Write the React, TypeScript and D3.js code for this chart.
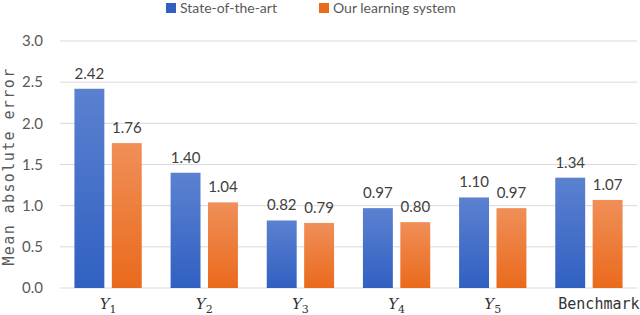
import { useEffect, useRef } from 'react';
import * as d3 from 'd3';

const categories = ['Y1', 'Y2', 'Y3', 'Y4', 'Y5', 'Benchmark'];
const stateOfArt = [2.42, 1.40, 0.82, 0.97, 1.10, 1.34];
const ourSystem = [1.76, 1.04, 0.79, 0.80, 0.97, 1.07];
const seriesNames = ['State-of-the-art', 'Our learning system'];
const yTicks = [0, 0.5, 1.0, 1.5, 2.0, 2.5, 3.0];

const COLORS = {
    grid: '#d9d9d9',
    text: '#595959',
    blueTop: '#5b81d0',
    blueBottom: '#3160c2',
    orangeTop: '#f08f58',
    orangeBottom: '#ea6a1c',
};

const W = 640;
const H = 315;

export default function App() {
    const svgRef = useRef<SVGSVGElement | null>(null);

    useEffect(() => {
        if (!svgRef.current) return;
        const svg = d3.select(svgRef.current);
        svg.selectAll('*').remove();

        const margin = { top: 41, right: 3, bottom: 27, left: 60 };
        const w = W - margin.left - margin.right;
        const h = H - margin.top - margin.bottom;

        const defs = svg.append('defs');
        const grad = (id: string, top: string, bottom: string) => {
            const lg = defs.append('linearGradient').attr('id', id)
                .attr('x1', 0).attr('y1', 0).attr('x2', 0).attr('y2', 1);
            lg.append('stop').attr('offset', '0%').attr('stop-color', top);
            lg.append('stop').attr('offset', '100%').attr('stop-color', bottom);
        };
        grad('gBlue', COLORS.blueTop, COLORS.blueBottom);
        grad('gOrange', COLORS.orangeTop, COLORS.orangeBottom);
        const fills = ['url(#gBlue)', 'url(#gOrange)'];
        const legendFills = [COLORS.blueBottom, COLORS.orangeBottom];

        const g = svg.append('g').attr('transform', `translate(${margin.left},${margin.top})`);

        const x0 = d3.scaleBand().domain(categories).range([0, w]).paddingInner(0.3).paddingOuter(0.15);
        const x1 = d3.scaleBand().domain(['0', '1']).range([0, x0.bandwidth()]).paddingInner(0.2);
        const y = d3.scaleLinear().domain([0, 3]).range([h, 0]);

        // gridlines
        g.selectAll('line.grid').data(yTicks).enter().append('line')
            .attr('x1', 0).attr('x2', w)
            .attr('y1', d => y(d)).attr('y2', d => y(d))
            .attr('stroke', COLORS.grid).attr('stroke-width', 1);

        // y tick labels
        g.selectAll('text.ytick').data(yTicks).enter().append('text')
            .attr('x', -17).attr('y', d => y(d)).attr('dy', '0.35em')
            .attr('text-anchor', 'end')
            .style('fill', COLORS.text).style('font-family', 'Lato, "Open Sans", sans-serif').style('font-size', '15px')
            .text(d => d.toFixed(1));

        // y axis title
        svg.append('text')
            .attr('transform', `translate(14,${margin.top + h / 2 + 2}) rotate(-90)`)
            .attr('text-anchor', 'middle')
            .style('fill', COLORS.text).style('font-family', '"DejaVu Sans Mono", monospace')
            .style('font-size', '15px').style('letter-spacing', '1.4px')
            .text('Mean absolute error');

        const series = [stateOfArt, ourSystem];
        series.forEach((vals, si) => {
            const grp = g.append('g');
            grp.selectAll('rect').data(vals).enter().append('rect')
                .attr('x', (_, i) => (x0(categories[i]) || 0) + (x1(String(si)) || 0))
                .attr('y', d => y(d))
                .attr('width', x1.bandwidth())
                .attr('height', d => h - y(d))
                .attr('fill', fills[si]);
            grp.selectAll('text').data(vals).enter().append('text')
                .attr('x', (_, i) => (x0(categories[i]) || 0) + (x1(String(si)) || 0) + x1.bandwidth() / 2)
                .attr('y', d => y(d) - 10)
                .attr('text-anchor', 'middle')
                .style('fill', '#404040').style('font-family', 'Lato, "Open Sans", sans-serif').style('font-size', '15px')
                .text(d => d.toFixed(2));
        });

        // category labels
        categories.forEach(c => {
            const cx = (x0(c) || 0) + x0.bandwidth() / 2;
            if (c.startsWith('Y')) {
                const t = g.append('text')
                    .attr('x', cx).attr('y', h + 21)
                    .attr('text-anchor', 'middle')
                    .style('fill', '#333').style('font-family', '"DejaVu Serif", serif').style('font-size', '15px');
                t.append('tspan').style('font-style', 'italic').text('Y');
                t.append('tspan').attr('dy', 4).style('font-size', '11px').text(c.slice(1));
            } else {
                g.append('text')
                    .attr('x', cx + 10).attr('y', h + 21)
                    .attr('text-anchor', 'middle')
                    .style('fill', '#333').style('font-family', '"DejaVu Sans Mono", monospace').style('font-size', '15px')
                    .text(c);
            }
        });

        // legend
        const legendX = [166, 319];
        seriesNames.forEach((name, i) => {
            svg.append('rect').attr('x', legendX[i]).attr('y', 3).attr('width', 10).attr('height', 10)
                .attr('fill', legendFills[i]);
            svg.append('text').attr('x', legendX[i] + 14).attr('y', 8).attr('dy', '0.35em')
                .style('fill', COLORS.text).style('font-family', 'Lato, "Open Sans", sans-serif').style('font-size', '14px')
                .text(name);
        });
    }, []);

    return (
        <svg ref={svgRef} width={W} height={H}
            style={{ position: 'absolute', left: 0, top: 0, background: '#fff' }} />
    );
}
